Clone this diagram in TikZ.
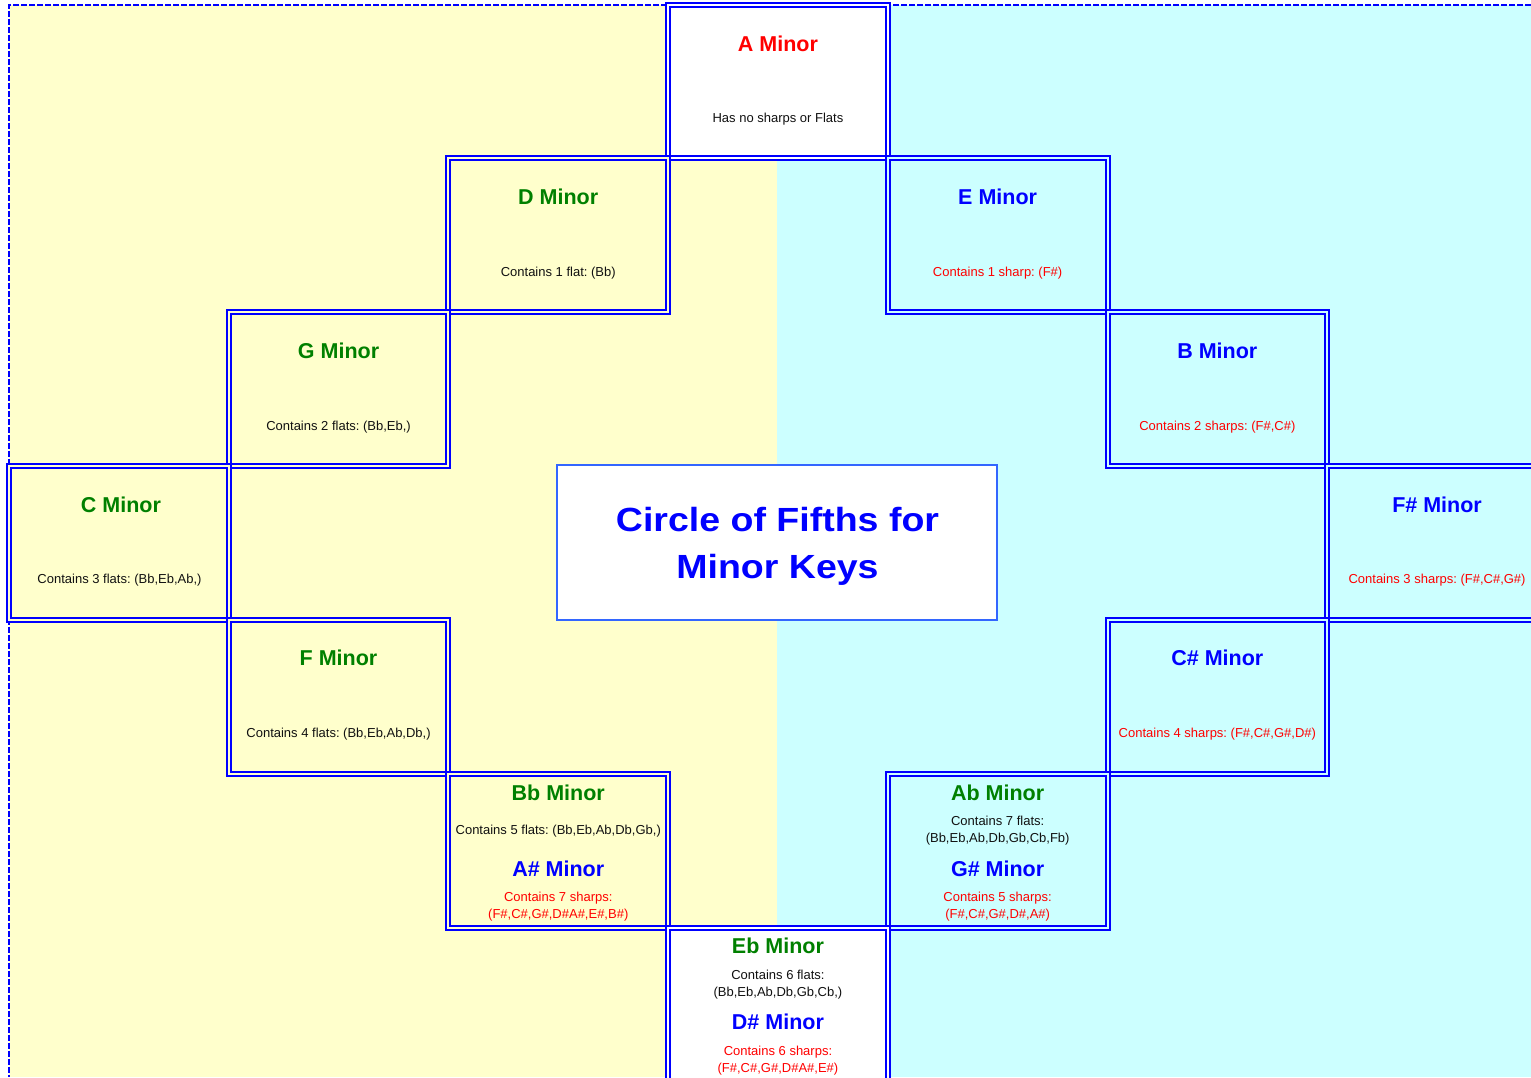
\documentclass[tikz,border=0pt]{standalone}
\usepackage{fontspec}
\setmainfont{Liberation Sans}
\newfontfamily\titlefont[FakeStretch=1.12]{Liberation Sans}
\frenchspacing
\definecolor{bgY}{HTML}{FFFFCC}
\definecolor{bgC}{HTML}{CCFFFF}
\definecolor{kgreen}{HTML}{008000}
\definecolor{kblue}{HTML}{0000FF}
\definecolor{kred}{HTML}{FF0000}
\definecolor{boxblue}{HTML}{3366FF}
\definecolor{ktext}{HTML}{111111}
\begin{document}
\begin{tikzpicture}[x=1pt,y=-1pt,
  cell/.style={rectangle, inner sep=0pt, outer sep=0pt, minimum width=219.7pt, minimum height=154pt,
               draw=kblue, line width=2pt, double distance=2pt},
  ycell/.style={cell, fill=bgY, double=bgY},
  ccell/.style={cell, fill=bgC, double=bgC},
  wcell/.style={cell, fill=white, double=white},
  ttl/.style={anchor=base, inner sep=0pt, font=\fontsize{21.5}{24}\selectfont\bfseries},
  sub/.style={anchor=base, inner sep=0pt, font=\fontsize{13}{16}\selectfont},
  flat/.style={sub, text=ktext},
  sharp/.style={sub, text=kred}]
\clip (0,0) rectangle (1531,1077);
% backgrounds
\fill[white] (0,0) rectangle (1531,1077);
\fill[bgY] (9,5) rectangle (777,1077);
\fill[bgC] (777,5) rectangle (1531,1077);
\draw[kblue, line width=2pt, dash pattern=on 6pt off 2pt] (1531,5) -- (9,5) -- (9,1077);
% cells
\node[wcell, minimum height=152.5pt] (A) at (777.95,81.25) {};
\node[ycell] (D) at (558.25,234.5) {};
\node[ccell] (E) at (997.65,234.5) {};
\node[ycell] (G) at (338.55,388.75) {};
\node[ccell] (B) at (1217.35,388.75) {};
\node[ycell] (C) at (118.85,543) {};
\node[ccell] (Fs) at (1437.05,543) {};
\node[ycell] (F) at (338.55,697) {};
\node[ccell] (Cs) at (1217.35,697) {};
\node[ycell, minimum height=153.5pt] (Bb) at (558.25,850.75) {};
\node[ccell, minimum height=153.5pt] (Ab) at (997.65,850.75) {};
\node[wcell] (Eb) at (777.95,1004.5) {};
% centre title
\node[draw=boxblue, line width=2pt, fill=white, minimum width=440pt, minimum height=155pt,
      inner sep=0pt] (box) at (777,542.5) {};
\node[align=center, inner sep=0pt, text=kblue, font=\titlefont\fontsize{33.5}{47}\selectfont\bfseries]
      (title) at (777.5,546.5) {Circle of Fifths for\\Minor Keys};
% texts
\node[ttl, kred] (At) at (777.95,51.7) {A Minor};
\node[flat] (As) at (777.95,122.8) {Has no sharps or Flats};
\node[ttl, kgreen] (Dt) at (558.25,204.7) {D Minor};
\node[flat] (Ds) at (558.25,276.8) {Contains 1 flat: (Bb)};
\node[ttl, kblue] (Et) at (997.65,204.7) {E Minor};
\node[sharp] (Es) at (997.65,276.8) {Contains 1 sharp: (F\#)};
\node[ttl, kgreen] (Gt) at (338.55,358.7) {G Minor};
\node[flat] (Gs) at (338.55,430.8) {Contains 2 flats: (Bb,Eb,)};
\node[ttl, kblue] (Bt) at (1217.35,358.7) {B Minor};
\node[sharp] (Bs) at (1217.35,430.8) {Contains 2 sharps: (F\#,C\#)};
\node[ttl, kgreen] (Ct) at (121,512.7) {C Minor};
\node[flat] (Cs2) at (119.5,583.8) {Contains 3 flats: (Bb,Eb,Ab,)};
\node[ttl, kblue] (Fst) at (1437.05,512.7) {F\# Minor};
\node[sharp] (Fss) at (1437.05,583.8) {Contains 3 sharps: (F\#,C\#,G\#)};
\node[ttl, kgreen] (Ft) at (338.55,665.7) {F Minor};
\node[flat] (Fs2) at (338.55,737.8) {Contains 4 flats: (Bb,Eb,Ab,Db,)};
\node[ttl, kblue] (Cst) at (1217.35,665.7) {C\# Minor};
\node[sharp] (Css) at (1217.35,737.8) {Contains 4 sharps: (F\#,C\#,G\#,D\#)};
% Bb / A#
\node[ttl, kgreen] (Bbt) at (558.25,800.7) {Bb Minor};
\node[flat] (Bbs) at (558.25,834.8) {Contains 5 flats: (Bb,Eb,Ab,Db,Gb,)};
\node[ttl, kblue] (Ast) at (558.25,876.7) {A\# Minor};
\node[sharp] (Ass1) at (558.25,901.8) {Contains 7 sharps:};
\node[sharp] (Ass2) at (558.25,918.8) {(F\#,C\#,G\#,D\#A\#,E\#,B\#)};
% Ab / G#
\node[ttl, kgreen] (Abt) at (997.65,800.7) {Ab Minor};
\node[flat] (Abs1) at (997.65,825.8) {Contains 7 flats:};
\node[flat] (Abs2) at (997.65,842.8) {(Bb,Eb,Ab,Db,Gb,Cb,Fb)};
\node[ttl, kblue] (Gst) at (997.65,876.7) {G\# Minor};
\node[sharp] (Gss1) at (997.65,901.8) {Contains 5 sharps:};
\node[sharp] (Gss2) at (997.65,918.8) {(F\#,C\#,G\#,D\#,A\#)};
% Eb / D#
\node[ttl, kgreen] (Ebt) at (777.95,953.7) {Eb Minor};
\node[flat] (Ebs1) at (777.95,979.8) {Contains 6 flats:};
\node[flat] (Ebs2) at (777.95,996.8) {(Bb,Eb,Ab,Db,Gb,Cb,)};
\node[ttl, kblue] (Dst) at (777.95,1029.7) {D\# Minor};
\node[sharp] (Dss1) at (777.95,1055.8) {Contains 6 sharps:};
\node[sharp] (Dss2) at (777.95,1072.8) {(F\#,C\#,G\#,D\#A\#,E\#)};
\end{tikzpicture}
\end{document}
